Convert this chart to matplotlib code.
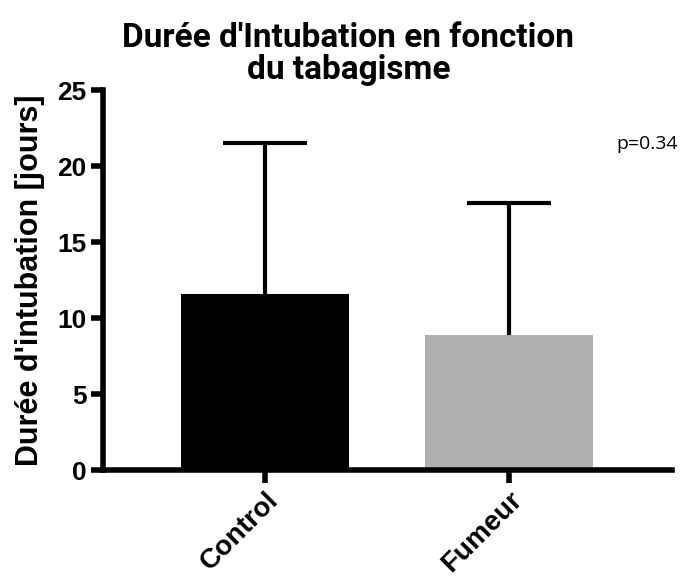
import matplotlib.pyplot as plt
import numpy as np

plt.rcParams['font.family'] = ['Liberation Sans', 'DejaVu Sans']

# Data
groups = ['Control', 'Fumeur']
means = [11.6, 8.9]
sds = [9.9, 8.65]
colors = ['#000000', '#afafb0']

fig = plt.figure(figsize=(6.9, 5.77), dpi=100)
ax = fig.add_axes([0.1493, 0.1854, 0.8246, 0.6586])

x = np.arange(len(groups))
ax.bar(x, means, width=0.69, color=colors, zorder=2)
eb = ax.errorbar(x, means, yerr=[np.zeros(len(sds)), sds], fmt='none', ecolor='black',
                 elinewidth=3, capsize=30, capthick=3, zorder=1)
eb[1][0].set_visible(False)  # only the upper cap

ax.set_xlim(-0.664, 1.668)
ax.set_ylim(0, 25)
ax.set_yticks([0, 5, 10, 15, 20, 25])
ax.set_xticks(x)
ax.set_xticklabels(groups, rotation=45, ha='right', rotation_mode='anchor',
                   fontsize=20, fontweight='bold')
for lbl in ax.get_yticklabels():
    lbl.set_fontsize(19)
    lbl.set_fontweight('bold')

for side in ['top', 'right']:
    ax.spines[side].set_visible(False)
for side in ['left', 'bottom']:
    ax.spines[side].set_linewidth(4)
ax.tick_params(axis='both', width=4, length=9, pad=3)

ax.set_ylabel("Durée d'intubation [jours]", fontsize=22, fontweight='bold', labelpad=9)
fig.text(0.505, 0.962, "Durée d'Intubation en fonction\ndu tabagisme", ha='center', va='top',
         fontsize=24, fontweight='bold', linespacing=1.0,
         family=['Roboto', 'DejaVu Sans'])
fig.text(0.894, 0.742, 'p=0.34', fontsize=14, va='baseline', family=['Open Sans', 'DejaVu Sans'])

fig.savefig('out.png', dpi=100)
